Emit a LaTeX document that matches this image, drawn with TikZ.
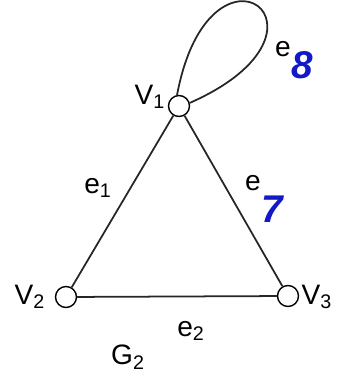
\documentclass[tikz,border=0pt]{standalone}
\usepackage{fontspec}
\setmainfont{Liberation Sans}
\usepackage{tikz}
\usetikzlibrary{positioning}
\definecolor{penblue}{RGB}{20,25,200}

\begin{document}
\begin{tikzpicture}[
  vertex/.style={circle,draw,thick,fill=white,minimum size=0.42cm,inner sep=0pt},
  lbl/.style={font=\fontsize{16}{18}\selectfont,inner sep=1pt},
  pen/.style={font=\fontsize{22}{24}\selectfont\bfseries\itshape,color=penblue,inner sep=0pt},
  edge/.style={line width=1pt,black!85},
]
  \useasboundingbox (0,0) rectangle (6.8,7.7);
  \node[vertex] (v1) at (3.58,5.58) {};
  \node[vertex] (v2) at (1.32,1.76) {};
  \node[vertex] (v3) at (5.76,1.78) {};
  \draw[edge] (v1) -- (v2);
  \draw[edge] (v1) -- (v3);
  \draw[edge] (v2) -- (v3);
  \draw[edge] (v1.100) .. controls (4.2,9.3) and (7.1,7.1) .. (v1.16);
  % labels
  \node[lbl] (lv1) at (3.00,5.76) {V\textsubscript{1}};
  \node[lbl] (lv2) at (0.60,1.76) {V\textsubscript{2}};
  \node[lbl] (lv3) at (6.34,1.76) {V\textsubscript{3}};
  \node[lbl] (le1) at (1.96,3.94) {e\textsubscript{1}};
  \node[lbl] (le2) at (3.82,1.08) {e\textsubscript{2}};
  \node[lbl] (le7) at (5.06,4.04) {e};
  \node[pen] (n7) at (5.44,3.52) {7};
  \node[lbl] (le8) at (5.66,6.72) {e};
  \node[pen] (n8) at (6.04,6.40) {8};
  \node[lbl] (g2) at (2.56,0.56) {G\textsubscript{2}};
\end{tikzpicture}
\end{document}
